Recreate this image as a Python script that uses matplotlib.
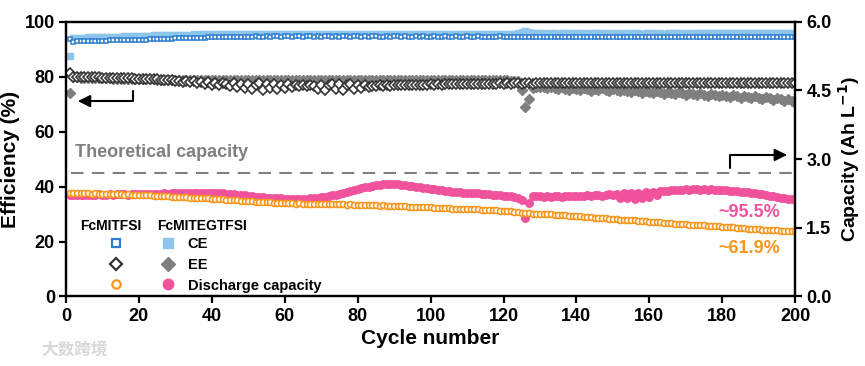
import numpy as np
import matplotlib
matplotlib.use('Agg')
import matplotlib.pyplot as plt

plt.rcParams['font.family'] = ['Liberation Sans', 'DejaVu Sans']
plt.rcParams['font.weight'] = 'bold'

cycles = np.arange(1, 201)

# coulombic efficiency (%)
ce_mit = [93.6, 92.7, 92.8, 92.8, 92.9, 92.9, 93.0, 93.0, 93.1, 93.1,
          93.1, 93.2, 93.2, 93.2, 93.3, 93.3, 93.3, 93.4, 93.4, 93.5,
          93.5, 93.5, 93.6, 93.6, 93.7, 93.7, 93.7, 93.8, 93.8, 93.9,
          93.9, 94.0, 94.0, 94.1, 94.1, 94.1, 94.2, 94.2, 94.3, 94.3,
          94.3, 94.4, 94.4, 94.4, 94.5, 94.5, 94.5, 94.5, 94.6, 94.6,
          94.6, 94.7, 94.6, 94.6, 94.7, 94.6, 94.7, 94.7, 94.6, 94.7,
          94.7, 94.6, 94.7, 94.7, 94.6, 94.7, 94.7, 94.6, 94.7, 94.6,
          94.7, 94.7, 94.6, 94.7, 94.6, 94.7, 94.7, 94.6, 94.7, 94.7,
          94.6, 94.7, 94.6, 94.7, 94.7, 94.6, 94.6, 94.7, 94.6, 94.7,
          94.7, 94.6, 94.7, 94.6, 94.6, 94.7, 94.6, 94.7, 94.6, 94.6,
          94.7, 94.6, 94.6, 94.7, 94.6, 94.6, 94.7, 94.6, 94.6, 94.7,
          94.6, 94.6, 94.7, 94.6, 94.6, 94.5, 94.6, 94.6, 94.7, 94.6,
          94.6, 94.6, 94.5, 94.6, 94.6, 94.6, 94.5, 94.6, 94.6, 94.5,
          94.6, 94.6, 94.5, 94.6, 94.5, 94.6, 94.6, 94.5, 94.6, 94.5,
          94.6, 94.5, 94.6, 94.5, 94.6, 94.6, 94.5, 94.6, 94.5, 94.6,
          94.5, 94.6, 94.5, 94.5, 94.6, 94.5, 94.6, 94.5, 94.5, 94.6,
          94.5, 94.5, 94.6, 94.5, 94.5, 94.6, 94.5, 94.5, 94.6, 94.5,
          94.5, 94.6, 94.5, 94.5, 94.4, 94.5, 94.5, 94.6, 94.5, 94.5,
          94.4, 94.5, 94.5, 94.4, 94.5, 94.3, 94.5, 94.4, 94.5, 94.3,
          94.5, 94.4, 94.3, 94.5, 94.4, 94.3, 94.5, 94.4, 94.3, 94.4]

ce_eg = [87.5, 94.0, 94.1, 94.2, 94.2, 94.3, 94.3, 94.4, 94.4, 94.5,
         94.5, 94.5, 94.6, 94.6, 94.6, 94.7, 94.7, 94.7, 94.8, 94.8,
         94.8, 94.9, 94.9, 95.0, 95.0, 95.0, 95.1, 95.1, 95.1, 95.2,
         95.2, 95.3, 95.2, 95.3, 95.4, 95.3, 95.4, 95.4, 95.5, 95.4,
         95.5, 95.5, 95.6, 95.5, 95.6, 95.5, 95.6, 95.6, 95.5, 95.6,
         95.6, 95.5, 95.7, 95.6, 95.5, 95.6, 95.7, 95.6, 95.5, 95.6,
         95.7, 95.6, 95.6, 95.5, 95.7, 95.6, 95.6, 95.7, 95.5, 95.6,
         95.6, 95.7, 95.6, 95.5, 95.6, 95.7, 95.6, 95.6, 95.5, 95.7,
         95.6, 95.6, 95.7, 95.5, 95.6, 95.6, 95.7, 95.6, 95.5, 95.6,
         95.7, 95.6, 95.6, 95.7, 95.5, 95.6, 95.6, 95.7, 95.6, 95.6,
         95.5, 95.7, 95.6, 95.6, 95.7, 95.6, 95.5, 95.6, 95.7, 95.6,
         95.6, 95.7, 95.5, 95.6, 95.6, 95.7, 95.6, 95.6, 95.7, 95.6,
         95.6, 95.7, 95.6, 95.8, 96.3, 96.5, 96.2, 96.0, 95.9, 95.8,
         95.8, 95.7, 95.8, 95.9, 95.7, 95.8, 95.8, 95.9, 95.7, 95.8,
         95.9, 95.8, 95.7, 95.8, 95.9, 95.8, 95.8, 95.7, 95.9, 95.8,
         95.8, 95.9, 95.7, 95.8, 95.8, 95.9, 95.8, 95.7, 95.8, 95.9,
         95.8, 95.8, 95.9, 95.7, 95.8, 95.9, 95.8, 95.8, 95.9, 95.8,
         95.7, 95.8, 95.9, 95.8, 95.8, 95.9, 95.8, 95.9, 95.8, 95.9,
         95.8, 95.9, 95.9, 95.8, 95.9, 95.8, 95.9, 96.0, 95.8, 95.9,
         95.9, 96.0, 95.8, 95.9, 96.0, 95.9, 95.9, 96.0, 95.9, 95.9]

# energy efficiency (%)
ee_mit = [81.3, 79.9, 79.9, 79.8, 79.8, 79.8, 79.7, 79.7, 79.7, 79.6,
          79.6, 79.6, 79.5, 79.5, 79.5, 79.4, 79.4, 79.4, 79.3, 79.3,
          79.2, 79.2, 79.1, 79.1, 79.0, 78.9, 78.9, 78.8, 78.7, 78.6,
          78.5, 78.2, 78.6, 77.9, 78.4, 77.6, 78.2, 77.3, 78.0, 77.1,
          77.8, 76.8, 77.6, 77.4, 76.6, 77.7, 76.2, 77.5, 75.8, 77.3,
          75.5, 76.8, 77.6, 75.2, 77.2, 76.0, 77.5, 75.4, 76.9, 75.9,
          77.3, 76.4, 77.0, 76.7, 76.9, 76.5, 77.0, 76.6, 75.6, 77.1,
          75.3, 76.8, 77.4, 75.6, 77.2, 75.1, 76.9, 77.3, 75.5, 77.0,
          75.8, 77.1, 76.2, 76.7, 76.5, 76.8, 76.6, 76.9, 76.7, 76.9,
          76.8, 77.0, 76.9, 77.0, 76.9, 77.1, 77.0, 77.1, 77.0, 77.2,
          77.1, 77.2, 77.1, 77.3, 77.2, 77.3, 77.2, 77.3, 77.3, 77.4,
          77.3, 77.4, 77.4, 77.5, 77.4, 77.5, 77.5, 77.5, 77.6, 77.5,
          77.6, 77.5, 77.6, 77.6, 77.5, 77.6, 77.6, 77.5, 77.6, 77.6,
          77.7, 77.6, 77.6, 77.7, 77.6, 77.7, 77.6, 77.7, 77.7, 77.6,
          77.7, 77.7, 77.6, 77.7, 77.7, 77.6, 77.7, 77.7, 77.7, 77.6,
          77.7, 77.7, 77.7, 77.6, 77.7, 77.7, 77.8, 77.7, 77.7, 77.7,
          77.8, 77.7, 77.7, 77.8, 77.7, 77.7, 77.8, 77.7, 77.8, 77.7,
          77.7, 77.8, 77.7, 77.8, 77.7, 77.8, 77.7, 77.8, 77.8, 77.7,
          77.8, 77.8, 77.7, 77.8, 77.8, 77.7, 77.8, 77.8, 77.7, 77.8,
          77.8, 77.7, 77.8, 77.8, 77.8, 77.7, 77.8, 77.8, 77.8, 77.8]

ee_eg = [74.0, 79.7, 79.7, 79.6, 79.6, 79.6, 79.5, 79.5, 79.5, 79.4,
         79.4, 79.4, 79.3, 79.3, 79.3, 79.2, 79.2, 79.2, 79.1, 79.1,
         79.1, 79.0, 79.0, 79.0, 78.9, 78.9, 78.9, 78.9, 78.8, 78.8,
         78.8, 78.7, 78.8, 78.9, 78.8, 78.7, 78.8, 78.8, 78.9, 78.8,
         78.7, 78.8, 78.9, 78.8, 78.7, 78.8, 78.8, 78.9, 78.7, 78.8,
         78.8, 78.9, 78.7, 78.8, 78.8, 78.7, 78.9, 78.8, 78.8, 78.7,
         78.8, 78.9, 78.8, 78.7, 78.8, 78.8, 78.9, 78.7, 78.8, 78.8,
         78.9, 78.8, 78.7, 78.8, 78.8, 78.9, 78.7, 78.8, 78.8, 78.8,
         78.9, 78.7, 78.8, 78.8, 78.9, 78.8, 78.7, 78.8, 78.8, 78.9,
         78.8, 78.7, 78.8, 78.9, 78.8, 78.8, 78.7, 78.8, 78.9, 78.8,
         78.7, 78.8, 78.8, 78.9, 78.8, 78.7, 78.8, 78.8, 78.9, 78.7,
         78.8, 78.8, 78.7, 78.8, 78.9, 78.8, 78.7, 78.8, 78.8, 78.7,
         78.7, 78.6, 78.5, 78.3, 75.3, 69.0, 71.7, 76.0, 76.3, 76.1,
         76.2, 75.7, 76.3, 75.9, 75.4, 76.1, 75.6, 75.2, 75.9, 75.5,
         75.1, 75.8, 75.4, 74.9, 75.6, 75.2, 75.7, 75.3, 74.8, 75.5,
         75.1, 74.6, 75.3, 74.9, 74.4, 75.1, 74.7, 74.2, 74.9, 74.5,
         74.0, 74.7, 74.3, 73.8, 74.5, 74.1, 73.6, 74.3, 73.9, 73.4,
         74.1, 73.7, 73.2, 73.9, 73.5, 73.0, 73.7, 73.3, 72.8, 73.5,
         73.1, 72.6, 73.3, 72.9, 72.4, 73.1, 72.7, 72.2, 72.8, 72.4,
         71.9, 72.5, 72.1, 71.6, 72.2, 71.7, 71.2, 71.8, 71.0, 70.5]

# discharge capacity (Ah L-1)
dc_mit = [2.25, 2.25, 2.26, 2.25, 2.26, 2.25, 2.24, 2.25, 2.24, 2.24,
          2.24, 2.23, 2.24, 2.23, 2.23, 2.22, 2.23, 2.22, 2.22, 2.22,
          2.21, 2.21, 2.21, 2.20, 2.20, 2.20, 2.19, 2.19, 2.18, 2.18,
          2.18, 2.17, 2.17, 2.16, 2.16, 2.15, 2.15, 2.14, 2.14, 2.13,
          2.13, 2.12, 2.12, 2.11, 2.11, 2.10, 2.10, 2.09, 2.09, 2.08,
          2.08, 2.07, 2.07, 2.07, 2.06, 2.06, 2.05, 2.05, 2.05, 2.04,
          2.04, 2.04, 2.03, 2.04, 2.03, 2.03, 2.02, 2.03, 2.02, 2.02,
          2.02, 2.01, 2.02, 2.01, 2.01, 2.01, 2.00, 2.01, 2.00, 2.00,
          2.00, 1.99, 2.00, 1.99, 1.99, 1.98, 1.99, 1.98, 1.98, 1.98,
          1.97, 1.97, 1.97, 1.96, 1.96, 1.96, 1.95, 1.95, 1.95, 1.95,
          1.94, 1.94, 1.93, 1.93, 1.93, 1.92, 1.92, 1.92, 1.91, 1.91,
          1.90, 1.90, 1.90, 1.89, 1.89, 1.89, 1.88, 1.88, 1.87, 1.87,
          1.86, 1.86, 1.85, 1.84, 1.83, 1.82, 1.82, 1.81, 1.81, 1.80,
          1.80, 1.79, 1.79, 1.78, 1.78, 1.77, 1.77, 1.76, 1.76, 1.75,
          1.75, 1.74, 1.74, 1.73, 1.72, 1.72, 1.71, 1.71, 1.70, 1.69,
          1.69, 1.68, 1.68, 1.67, 1.67, 1.66, 1.65, 1.65, 1.64, 1.63,
          1.63, 1.62, 1.62, 1.61, 1.61, 1.60, 1.59, 1.59, 1.58, 1.58,
          1.57, 1.57, 1.56, 1.55, 1.55, 1.54, 1.54, 1.53, 1.53, 1.52,
          1.52, 1.51, 1.51, 1.50, 1.50, 1.49, 1.48, 1.48, 1.47, 1.47,
          1.46, 1.46, 1.45, 1.45, 1.45, 1.44, 1.44, 1.44, 1.43, 1.43]

dc_eg = [2.22, 2.21, 2.22, 2.22, 2.21, 2.22, 2.22, 2.22, 2.23, 2.22,
         2.22, 2.23, 2.22, 2.23, 2.23, 2.23, 2.22, 2.23, 2.23, 2.23,
         2.23, 2.24, 2.23, 2.24, 2.24, 2.24, 2.25, 2.24, 2.25, 2.25,
         2.25, 2.26, 2.26, 2.26, 2.27, 2.26, 2.27, 2.26, 2.26, 2.26,
         2.25, 2.25, 2.25, 2.24, 2.24, 2.23, 2.22, 2.22, 2.21, 2.20,
         2.19, 2.18, 2.18, 2.17, 2.16, 2.15, 2.15, 2.14, 2.14, 2.13,
         2.13, 2.12, 2.13, 2.12, 2.13, 2.13, 2.14, 2.15, 2.16, 2.17,
         2.18, 2.19, 2.21, 2.22, 2.24, 2.26, 2.28, 2.30, 2.32, 2.34,
         2.36, 2.38, 2.40, 2.42, 2.43, 2.44, 2.45, 2.46, 2.46, 2.46,
         2.45, 2.44, 2.43, 2.42, 2.41, 2.39, 2.38, 2.37, 2.36, 2.35,
         2.34, 2.33, 2.32, 2.31, 2.30, 2.29, 2.29, 2.28, 2.27, 2.27,
         2.26, 2.26, 2.25, 2.24, 2.24, 2.23, 2.22, 2.22, 2.21, 2.20,
         2.19, 2.19, 2.18, 2.14, 2.10, 1.71, 2.04, 2.19, 2.20, 2.19,
         2.18, 2.19, 2.18, 2.19, 2.19, 2.18, 2.19, 2.20, 2.19, 2.20,
         2.20, 2.19, 2.21, 2.20, 2.21, 2.22, 2.20, 2.22, 2.23, 2.21,
         2.23, 2.16, 2.25, 2.14, 2.26, 2.13, 2.27, 2.15, 2.28, 2.17,
         2.29, 2.22, 2.30, 2.31, 2.30, 2.32, 2.33, 2.32, 2.33, 2.34,
         2.33, 2.34, 2.34, 2.33, 2.34, 2.33, 2.34, 2.33, 2.33, 2.32,
         2.32, 2.31, 2.31, 2.30, 2.29, 2.28, 2.28, 2.26, 2.25, 2.24,
         2.23, 2.21, 2.20, 2.19, 2.17, 2.16, 2.14, 2.13, 2.12, 2.11]

theoretical = 2.70

blue, light_blue = '#2f7fd0', '#8ec5ea'
dark, gray = '#333333', '#7f7f7f'
orange, pink = '#f5961e', '#f0529c'

fig = plt.figure(figsize=(8.65, 3.66), dpi=100)
ax = fig.add_axes([0.0763, 0.19, 0.843, 0.7507])
ax2 = ax.twinx()

# efficiency on left axis
ax.plot(cycles, ce_eg, 's', ms=3.8, color=light_blue, mec=light_blue, zorder=2)
ax.plot(cycles, ce_mit, 's', ms=3.1, mfc='white', mec=blue, mew=1.1, zorder=3)
ax.plot(cycles, ee_eg, 'D', ms=5.2, color=gray, mec=gray, zorder=2)
ax.plot(cycles, ee_mit, 'D', ms=5.2, mfc='white', mec=dark, mew=1.2, zorder=3)

# capacity on right axis
ax2.plot(cycles, dc_eg, 'o', ms=5.4, color=pink, mec=pink)
ax2.plot(cycles, dc_mit, 'o', ms=4.3, mfc='white', mec=orange, mew=1.2)
ax2.plot([1.5, 200], [theoretical, theoretical], '--', color='#808080',
         lw=1.5, dashes=(6, 4))
ax2.text(2.5, 3.14, 'Theoretical capacity', color='#808080', fontsize=13,
         fontweight='bold', va='center', ha='left')
ax2.text(187.5, 1.83, '~95.5%', color=pink, fontsize=13, fontweight='bold',
         ha='center', va='center')
ax2.text(187.5, 1.04, '~61.9%', color=orange, fontsize=13, fontweight='bold',
         ha='center', va='center')

# arrows
ax.annotate('', xy=(2.5, 71.1), xytext=(18.4, 75.8),
            arrowprops=dict(arrowstyle='-|>', color='black', lw=1.5,
                            mutation_scale=18,
                            connectionstyle='angle,angleA=90,angleB=0,rad=0'))
ax2.annotate('', xy=(198.5, 3.09), xytext=(182, 2.74),
             arrowprops=dict(arrowstyle='-|>', color='black', lw=1.5,
                             mutation_scale=18,
                             connectionstyle='angle,angleA=90,angleB=0,rad=0'))

# legend
h_mit = [ax2.plot([], [], 's', ms=6, mfc='white', mec=blue, mew=1.6)[0],
         ax2.plot([], [], 'D', ms=6, mfc='white', mec=dark, mew=1.6)[0],
         ax2.plot([], [], 'o', ms=6, mfc='white', mec=orange, mew=1.6)[0]]
h_eg = [ax2.plot([], [], 's', ms=7, color=light_blue)[0],
        ax2.plot([], [], 'D', ms=7, color=gray)[0],
        ax2.plot([], [], 'o', ms=7.5, color=pink)[0]]
leg1 = ax2.legend(h_mit, ['', '', ''], loc='upper left', frameon=False,
                  bbox_to_anchor=(0.056, 0.215), handlelength=1.2,
                  handletextpad=0, labelspacing=0.45, fontsize=10.5,
                  borderaxespad=0, borderpad=0)
ax2.add_artist(leg1)
ax2.legend(h_eg, ['CE', 'EE', 'Discharge capacity'], loc='upper left',
           frameon=False, bbox_to_anchor=(0.128, 0.215), handlelength=1.2,
           handletextpad=0.75, labelspacing=0.45,
           borderaxespad=0, borderpad=0, prop={'weight': 'bold', 'size': 10.5})
ax.text(0.019, 0.257, 'FcMITFSI', transform=ax.transAxes, fontsize=10,
        fontweight='bold', va='center', ha='left')
ax.text(0.125, 0.257, 'FcMITEGTFSI', transform=ax.transAxes, fontsize=10,
        fontweight='bold', va='center', ha='left')

ax.set_xlim(0, 200)
ax.set_ylim(0, 100)
ax2.set_ylim(0, 6)
ax.set_xticks(np.arange(0, 201, 20))
ax.set_yticks(np.arange(0, 101, 20))
ax2.set_yticks([0, 1.5, 3.0, 4.5, 6.0])
ax2.set_yticklabels(['0.0', '1.5', '3.0', '4.5', '6.0'])

for a in (ax, ax2):
    for s in a.spines.values():
        s.set_linewidth(1.6)
    a.tick_params(direction='out', length=5, width=1.6, labelsize=13, pad=3)
    for lab in a.get_xticklabels() + a.get_yticklabels():
        lab.set_fontweight('bold')

ax.set_xlabel('Cycle number', fontsize=15, fontweight='bold', labelpad=3)
ax.set_ylabel('Efficiency (%)', fontsize=15, fontweight='bold', labelpad=3)
ax2.set_ylabel('Capacity (Ah L$^{\\mathbf{-1}}$)', fontsize=14,
               fontweight='bold', labelpad=3)

fig.text(0.048, 0.045, '大数跨境', family=['Noto Sans CJK SC', 'DejaVu Sans'],
         color='#d8d8d8', fontsize=12, va='center')

fig.savefig('out.png', dpi=100)
